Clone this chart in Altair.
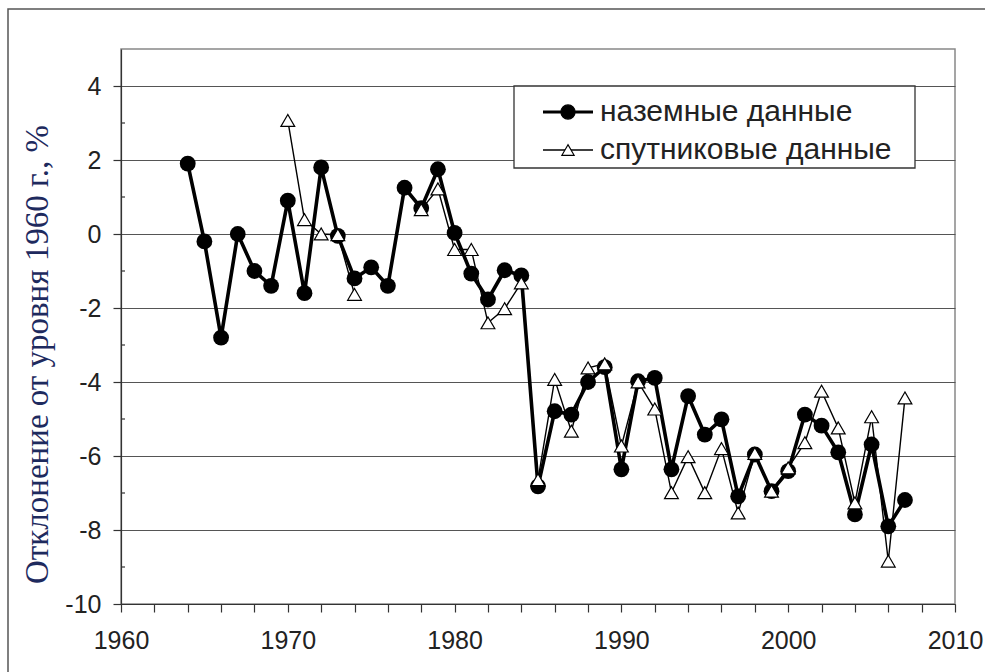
import altair as alt
import pandas as pd

# ---------------- data ----------------
years = list(range(1964, 2008))
ground_values = [1.9, -0.2, -2.8, 0.0, -1.0, -1.4, 0.9, -1.6, 1.8, -0.05,
                 -1.2, -0.9, -1.4, 1.25, 0.7, 1.75, 0.03, -1.07, -1.77, -0.98,
                 -1.12, -6.82, -4.79, -4.88, -4.0, -3.6, -6.36, -3.98, -3.89, -6.36,
                 -4.38, -5.42, -5.01, -7.09, -5.96, -6.95, -6.41, -4.88, -5.18, -5.9,
                 -7.58, -5.69, -7.9, -7.19]

sat_years = [1970, 1971, 1972, 1973, 1974] + list(range(1978, 2008))
sat_values = [3.07, 0.39, 0.0, -0.02, -1.63,
              0.66, 1.22, -0.42, -0.42, -2.4, -2.02, -1.32, -6.64, -3.93, -5.33,
              -3.62, -3.51, -5.73, -4.0, -4.73, -6.99, -6.02, -6.99, -5.8, -7.54,
              -5.93, -6.95, -6.32, -5.64, -4.25, -5.24, -7.27, -4.94, -8.84, -4.43]

series_names = ["наземные данные", "спутниковые данные"]
y_title = "Отклонение от уровня 1960 г., %"

x_ticks = list(range(1960, 2011, 2))
y_major = [-10, -8, -6, -4, -2, 0, 2, 4]
y_minor = [-9, -7, -5, -3, -1, 1, 3]

# ---------------- frames ----------------
ground_df = pd.DataFrame({"year": years, "value": ground_values})
seg = []
s = 0
for i, yr in enumerate(sat_years):
    if i > 0 and yr - sat_years[i - 1] > 1:
        s += 1
    seg.append(s)
sat_df = pd.DataFrame({"year": sat_years, "value": sat_values, "seg": seg})
minor_df = pd.DataFrame({"value": y_minor})
legend_df = pd.DataFrame({"series": series_names})
one_df = pd.DataFrame({"k": [0]})

SANS = "Liberation Sans, Arial, sans-serif"
SERIF = "Liberation Serif, Times New Roman, serif"

xscale = alt.Scale(domain=[1960, 2010], nice=False, zero=False)
yscale = alt.Scale(domain=[-10, 5], nice=False, zero=False)

xaxis = alt.Axis(values=x_ticks, labelExpr="datum.value % 10 === 0 ? '' + datum.value : ''",
                 title=None, grid=False, tickSize=8, tickColor="#333",
                 domainColor="#333", domainWidth=1.2, tickWidth=1.2,
                 labelFont=SANS, labelFontSize=25, labelColor="#222",
                 labelPadding=16, labelFlush=False, labelOverlap=False)
yaxis = alt.Axis(values=y_major, labelExpr="'' + datum.value", title=y_title,
                 grid=True, gridColor="#555", gridWidth=1.1,
                 tickSize=8, tickColor="#333", tickWidth=1.2, domainColor="#333", domainWidth=1.2,
                 labelFont=SANS, labelFontSize=25, labelColor="#222", labelPadding=12,
                 titleFont=SERIF, titleFontSize=33, titleFontWeight="normal",
                 titleColor="#1e2a5e", titleX=-84, titleY=305, titleAngle=270,
                 titleAlign="center", titleBaseline="middle")

X = alt.X("year:Q", scale=xscale, axis=xaxis)
Y = alt.Y("value:Q", scale=yscale, axis=yaxis)

frame = alt.Chart(one_df).mark_rect(fillOpacity=0, stroke="#555", strokeWidth=1.5).encode(
    x=alt.value(-113), x2=alt.value(900), y=alt.value(-40), y2=alt.value(700))

legend_box = alt.Chart(one_df).mark_rect(fill="white", stroke="#333", strokeWidth=1.3).encode(
    x=alt.value(393), x2=alt.value(794), y=alt.value(37), y2=alt.value(119))

sat_line = alt.Chart(sat_df).mark_line(color="black", strokeWidth=1.4).encode(
    x=X, y=Y, detail="seg:N")

ground_line = alt.Chart(ground_df).mark_line(color="black", strokeWidth=3.6).encode(x=X, y=Y)

ground_pts = alt.Chart(ground_df).mark_point(shape="circle", filled=True, color="black",
                                             size=250, opacity=1).encode(x=X, y=Y)

sat_pts = alt.Chart(sat_df).mark_point(shape="triangle-up", filled=True, fill="white",
                                       stroke="black", strokeWidth=1.2, size=190,
                                       opacity=1).encode(x=X, y=Y)

minor = alt.Chart(minor_df).mark_rule(color="#333", strokeWidth=1.2).encode(
    y=Y, x=alt.value(0), x2=alt.value(4))

main = alt.layer(frame, legend_box, sat_line, ground_line, ground_pts, sat_pts, minor)

# ---------------- legend (built from marks) ----------------
LY = alt.Y("series:N", scale=alt.Scale(type="point", domain=series_names, range=[63, 101],
                                        padding=0), axis=None)

leg_lines = alt.Chart(legend_df).mark_rule(color="black").encode(
    y=LY, x=alt.value(422), x2=alt.value(472),
    strokeWidth=alt.StrokeWidth("series:N", scale=alt.Scale(domain=series_names, range=[3.2, 1.4]),
                                legend=None))

leg_pts = alt.Chart(legend_df).mark_point(filled=True, stroke="black", strokeWidth=1.2,
                                          opacity=1).encode(
    y=LY, x=alt.value(447),
    shape=alt.Shape("series:N", scale=alt.Scale(domain=series_names,
                                                range=["circle", "triangle-up"]), legend=None),
    fill=alt.Fill("series:N", scale=alt.Scale(domain=series_names, range=["black", "white"]),
                  legend=None),
    size=alt.Size("series:N", scale=alt.Scale(domain=series_names, range=[200, 150]),
                  legend=None),
)

leg_text = alt.Chart(legend_df).mark_text(align="left", baseline="middle", font=SANS,
                                          fontSize=30, color="#222").encode(
    y=LY, x=alt.value(479), text="series:N")

legend = alt.layer(leg_lines, leg_pts, leg_text)

chart = alt.layer(main, legend).resolve_scale(y="independent").properties(
    width=834, height=555,
    autosize=alt.AutoSizeParams(type="none"),
    padding={"left": 121, "top": 49, "right": 30, "bottom": 68},
    background="white",
).configure_view(stroke="#888", strokeWidth=1.5)

chart.save("out.html", embed_options={"renderer": "svg", "actions": False})
